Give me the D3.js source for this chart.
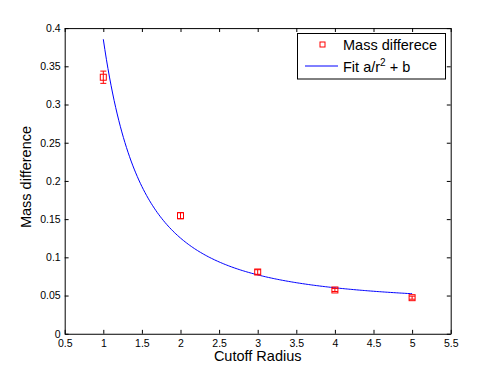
<!DOCTYPE html>
<html><head><meta charset="utf-8">
<script src="https://cdn.jsdelivr.net/npm/d3@7"></script>
<style>body{margin:0;background:#fff}svg{display:block;font-family:"Liberation Sans",Arial,Helvetica,sans-serif}</style>
</head><body><svg id="c" width="498" height="375"></svg>
<script>
const radii = [1, 2, 3, 4, 5];
const massDiff = [0.3357, 0.1545, 0.0808, 0.0573, 0.0472];
const errors = [0.008, 0.004, 0.003, 0.002, 0.002];
const fitA = 0.3469, fitB = 0.0385;
const xTicks = [0.5, 1, 1.5, 2, 2.5, 3, 3.5, 4, 4.5, 5, 5.5];
const yTicks = [0, 0.05, 0.1, 0.15, 0.2, 0.25, 0.3, 0.35, 0.4];
const legendLabels = ["Mass differece", "Fit a/r"];

const svg = d3.select("#c");
const L = 64.7, R = 450.7, T = 28.1, B = 333.75;
const x = d3.scaleLinear().domain([0.5, 5.5]).range([L, R]);
const y = d3.scaleLinear().domain([0, 0.4]).range([B, T]);
const tl = 3.9;

const fmt = d => String(d);
const gx = svg.append("g").attr("transform", `translate(0,${B})`)
  .call(d3.axisBottom(x).tickValues(xTicks).tickFormat(fmt).tickSizeInner(-tl).tickSizeOuter(0).tickPadding(6));
const gy = svg.append("g").attr("transform", `translate(${L},0)`)
  .call(d3.axisLeft(y).tickValues(yTicks).tickFormat(fmt).tickSizeInner(-tl).tickSizeOuter(0).tickPadding(4));
const gx2 = svg.append("g").attr("transform", `translate(0,${T})`)
  .call(d3.axisTop(x).tickValues(xTicks).tickFormat("").tickSizeInner(-tl).tickSizeOuter(0));
const gy2 = svg.append("g").attr("transform", `translate(${R},0)`)
  .call(d3.axisRight(y).tickValues(yTicks).tickFormat("").tickSizeInner(-tl).tickSizeOuter(0));
[gx, gy, gx2, gy2].forEach(g => {
  g.selectAll("path.domain").attr("stroke", "#000").attr("stroke-width", 1);
  g.selectAll(".tick line").attr("stroke", "#000").attr("stroke-width", 1);
  g.selectAll("text").attr("font-size", 10.5).attr("fill", "#000").attr("font-family", null);
});
gx.selectAll("text").attr("dy", "0.71em");

// fit curve
const rs = d3.range(1, 5.0001, 0.02);
svg.append("path")
  .datum(rs)
  .attr("fill", "none").attr("stroke", "#0000ff").attr("stroke-width", 1)
  .attr("d", d3.line().x(r => x(r)).y(r => y(fitA / (r * r) + fitB)));

// error bars + markers
const pts = radii.map((r, i) => ({r, v: massDiff[i], e: errors[i]}));
const eb = svg.append("g").attr("stroke", "#ff0000").attr("stroke-width", 1).attr("fill", "none");
pts.forEach(p => {
  const cx = x(p.r);
  eb.append("line").attr("x1", cx).attr("x2", cx).attr("y1", y(p.v - p.e)).attr("y2", y(p.v + p.e));
  eb.append("line").attr("x1", cx - 3).attr("x2", cx + 3).attr("y1", y(p.v - p.e)).attr("y2", y(p.v - p.e));
  eb.append("line").attr("x1", cx - 3).attr("x2", cx + 3).attr("y1", y(p.v + p.e)).attr("y2", y(p.v + p.e));
  eb.append("rect").attr("x", cx - 3).attr("y", y(p.v) - 3).attr("width", 6).attr("height", 6);
});

// axis labels
svg.append("text").attr("x", (L + R) / 2).attr("y", 361).attr("text-anchor", "middle")
  .attr("font-size", 14.5).text("Cutoff Radius");
svg.append("text").attr("transform", `translate(31,177) rotate(-90)`).attr("text-anchor", "middle")
  .attr("font-size", 14.5).text("Mass difference");

// legend
const lg = svg.append("g");
lg.append("rect").attr("x", 297.5).attr("y", 33.5).attr("width", 148).attr("height", 45.5)
  .attr("fill", "#fff").attr("stroke", "#000").attr("stroke-width", 1);
const lm = lg.append("g").attr("stroke", "#ff0000").attr("stroke-width", 1).attr("fill", "none");
lm.append("rect").attr("x", 320).attr("y", 42).attr("width", 5).attr("height", 5);
lg.append("text").attr("x", 343).attr("y", 50).attr("font-size", 14.5).text(legendLabels[0]);
lg.append("line").attr("x1", 305).attr("x2", 338).attr("y1", 66).attr("y2", 66)
  .attr("stroke", "#0000ff").attr("stroke-width", 1);
const t2 = lg.append("text").attr("x", 343).attr("y", 72).attr("font-size", 14.5);
t2.append("tspan").text(legendLabels[1]);
t2.append("tspan").attr("font-size", 10).attr("dy", -6).text("2");
t2.append("tspan").attr("dy", 6).text(" + b");
</script></body></html>
